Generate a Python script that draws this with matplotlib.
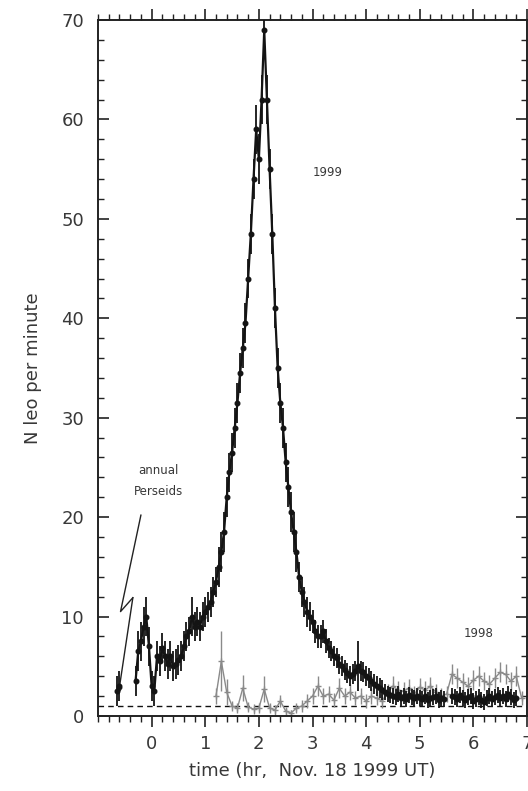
import numpy as np
import matplotlib
matplotlib.use("Agg")
import matplotlib.pyplot as plt
from matplotlib.ticker import MultipleLocator

nan = np.nan

# ---- 1999 Leonid rates (N per minute), 3-min bins starting at -0.65 hr ----
t99_start = -0.65
t99_step = 0.05
rate99 = [
    2.5, 3.0, nan, nan, nan, nan, nan, 3.5, 6.5, 7.5,
    9.0, 10.0, 7.0, 3.0, 2.5, 6.0, 5.5, 6.8, 6.0, 5.2,
    6.0, 5.0, 5.2, 5.6, 6.0, 7.0, 8.0, 8.5, 10.0, 9.0,
    9.5, 9.0, 10.0, 10.5, 11.0, 11.5, 12.5, 13.5, 15.0, 16.5,
    18.5, 22.0, 24.5, 26.5, 29.0, 31.5, 34.5, 37.0, 39.5, 44.0,
    48.5, 54.0, 59.0, 56.0, 62.0, 69.0, 62.0, 55.0, 48.5, 41.0,
    35.0, 31.5, 29.0, 25.5, 23.0, 20.5, 18.5, 16.5, 14.0, 12.5,
    11.5, 10.5, 10.0, 9.5, 8.5, 8.0, 8.0, 8.5, 7.5, 6.8,
    6.5, 6.0, 5.8, 5.2, 5.0, 4.6, 4.3, 4.0, 4.2, 4.5,
    5.0, 4.5, 4.4, 4.0, 3.8, 3.5, 3.2, 3.0, 2.8, 2.6,
    2.4, 2.2, 2.1, 2.0, 1.9, 2.2, 1.8, 2.0, 1.7, 2.1,
    1.9, 1.8, 2.0, 1.8, 1.7, 2.0, 1.6, 1.8, 1.9, 2.0,
    1.6, 1.8, 1.7, nan, nan, 2.0, 1.9, 1.7, 2.1, 1.8,
    1.6, 1.9, 2.0, 1.5, 1.7, 1.9, 1.6, 1.4, 1.8, 2.0,
    1.7, 1.9, 2.1, 1.8, 2.0, 1.7, 2.2, 1.9, 1.6, 1.8,
]
err99 = [
    1.5, 1.5, 0, 0, 0, 0, 0, 1.5, 2.0, 2.0,
    2.0, 2.0, 2.0, 1.5, 1.5, 1.5, 1.5, 1.5, 1.5, 1.5,
    1.5, 1.5, 1.5, 1.5, 1.5, 1.5, 1.5, 1.5, 2.0, 1.5,
    1.5, 1.5, 1.5, 1.5, 1.5, 1.5, 1.5, 1.5, 2.0, 2.0,
    2.0, 2.0, 2.0, 2.0, 2.0, 2.0, 2.0, 2.0, 2.0, 2.0,
    2.0, 2.0, 2.5, 2.5, 2.5, 2.5, 2.5, 2.0, 2.0, 2.0,
    2.0, 2.0, 2.0, 2.0, 2.0, 2.0, 2.0, 2.0, 1.5, 1.5,
    1.5, 1.5, 1.5, 1.2, 1.2, 1.2, 1.2, 1.2, 1.2, 1.0,
    1.0, 1.0, 1.0, 1.0, 1.0, 1.0, 1.0, 1.0, 1.0, 1.0,
    2.5, 1.0, 1.0, 1.0, 1.0, 1.0, 1.0, 1.0, 1.0, 1.0,
    0.8, 0.8, 0.8, 0.8, 0.8, 0.8, 0.8, 0.8, 0.8, 0.8,
    0.8, 0.8, 0.8, 0.8, 0.8, 0.8, 0.8, 0.8, 0.8, 0.8,
    0.8, 0.8, 0.8, 0, 0, 0.8, 0.8, 0.8, 0.8, 0.8,
    0.8, 0.8, 0.8, 0.8, 0.8, 0.8, 0.8, 0.8, 0.8, 0.8,
    0.8, 0.8, 0.8, 0.8, 0.8, 0.8, 0.8, 0.8, 0.8, 0.8,
]

# ---- 1998 rates, 6-min bins starting at 1.2 hr ----
t98_start = 1.2
t98_step = 0.1
rate98 = [
    2.0, 5.5, 2.4, 1.0, 0.8, 2.8, 0.9, 0.7, 0.8, 2.7,
    0.8, 0.6, 1.5, 0.5, 0.3, 0.8, 1.0, 1.5, 2.0, 3.0,
    2.0, 2.2, 1.6, 2.8, 2.0, 2.4, 1.8, 2.0, 1.5, 2.0,
    1.8, 1.5, 2.4, 3.0, 2.6, 2.5, 2.8, 2.2, 2.9, 2.6,
    3.0, 2.4, 2.0, 2.2, 4.2, 3.8, 3.4, 3.0, 3.6, 4.0,
    3.5, 3.2, 3.8, 4.4, 4.2, 3.5, 4.0, 1.8,
]
err98 = [
    0.8, 3.0, 1.3, 0.5, 0.5, 1.3, 0.5, 0.5, 0.5, 1.3,
    0.5, 0.5, 0.6, 0.4, 0.3, 0.5, 0.6, 0.7, 0.8, 1.0,
    0.8, 0.8, 0.7, 1.0, 0.8, 0.8, 0.7, 0.8, 0.7, 0.8,
    0.7, 0.7, 0.8, 1.0, 0.9, 0.9, 0.9, 0.8, 0.9, 0.9,
    0.9, 0.8, 0.8, 0.8, 1.0, 1.0, 0.9, 0.9, 1.0, 1.0,
    0.9, 0.9, 1.0, 1.0, 1.0, 0.9, 1.0, 0.7,
]

background_level = 1.0
xticks = [0, 1, 2, 3, 4, 5, 6, 7]
yticks = [0, 10, 20, 30, 40, 50, 60, 70]

t99 = t99_start + t99_step * np.arange(len(rate99))
t98 = t98_start + t98_step * np.arange(len(rate98))

txt = "#383838"
plt.rcParams['font.family'] = ['DejaVu Sans']

fig = plt.figure(figsize=(5.28, 7.91), dpi=100)
ax = fig.add_axes([98/528, 75/791, 429/528, 696/791])

ax.axhline(background_level, color="#111111", lw=1.0, ls=(0, (4, 3)), zorder=1)

ax.errorbar(t98, rate98, yerr=err98, fmt='-', color="#8a8a8a", lw=1.0,
            marker='+', ms=4, mew=1.0, elinewidth=1.0, capsize=0, zorder=2)
ax.errorbar(t99, rate99, yerr=err99, fmt='-', color="#141414", lw=1.6,
            marker='o', ms=3.3, elinewidth=1.3, capsize=0, zorder=3)

# annotation: lightning-style arrow to annual Perseids
ax.plot([-0.2, -0.58, -0.35], [20.2, 10.5, 11.9], color="#222222", lw=1.0)
ax.annotate("", xy=(-0.62, 2.2), xytext=(-0.35, 11.9),
            arrowprops=dict(arrowstyle="-|>", color="#222222", lw=1.0,
                            mutation_scale=9, shrinkA=0, shrinkB=0))
ax.text(0.13, 24.7, "annual", ha='center', va='center', fontsize=8.5, color=txt)
ax.text(0.13, 22.6, "Perseids", ha='center', va='center', fontsize=8.5, color=txt)
ax.text(3.28, 54.7, "1999", ha='center', va='center', fontsize=8.5, color=txt)
ax.text(6.09, 8.3, "1998", ha='center', va='center', fontsize=8.5, color=txt)

ax.set_xlim(-1, 7)
ax.set_ylim(0, 70)
ax.set_xticks(xticks)
ax.set_yticks(yticks)
ax.xaxis.set_minor_locator(MultipleLocator(0.2))
ax.yaxis.set_minor_locator(MultipleLocator(2))

for s in ax.spines.values():
    s.set_linewidth(1.4)
    s.set_color("#222222")

ax.tick_params(axis='x', which='both', direction='out', top=True, bottom=True,
               colors="#222222", labelcolor=txt, labelsize=13, pad=6)
ax.tick_params(axis='y', which='both', direction='in', left=True, right=True,
               colors="#222222", labelcolor=txt, labelsize=13, pad=10)
ax.tick_params(which='major', length=8, width=1.2)
ax.tick_params(which='minor', length=4, width=1.0)

ax.set_ylabel("N leo per minute", fontsize=13, color=txt, labelpad=14)
ax.set_xlabel("time (hr,  Nov. 18 1999 UT)", fontsize=13, color=txt, labelpad=6)

fig.savefig("out.png", dpi=100)
